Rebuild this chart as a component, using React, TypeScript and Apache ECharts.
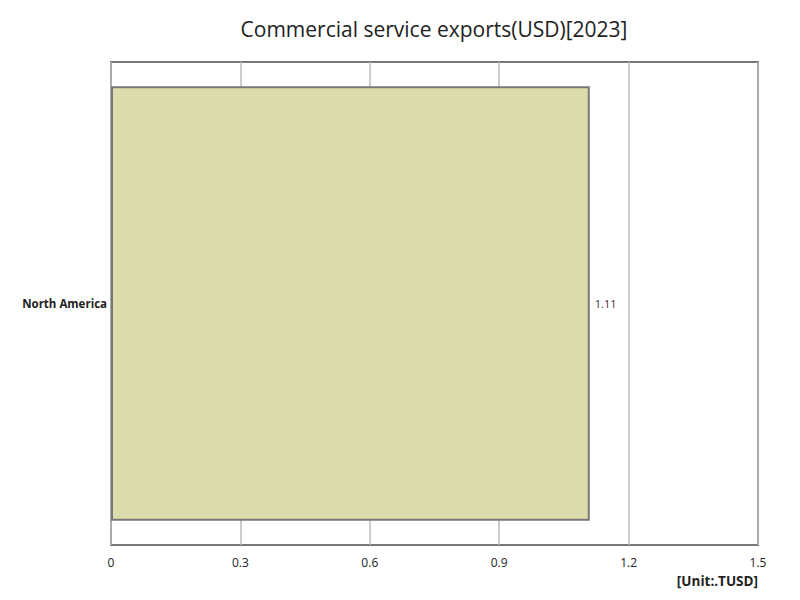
import { useEffect, useRef } from 'react';
import * as echarts from 'echarts';

const categories = ['North America'];
const values = [1.11];
const xTicks = { min: 0, max: 1.5, interval: 0.3 };

const FONT = "'Open Sans', 'Noto Sans', sans-serif";

export default function App() {
  const chartRef = useRef<HTMLDivElement>(null);

  useEffect(() => {
    if (!chartRef.current) return;
    const chart = echarts.init(chartRef.current, null, { renderer: 'svg' });

    const option = {
      animation: false,
      textStyle: { fontFamily: FONT },
      title: {
        text: 'Commercial service exports(USD)[2023]',
        left: 429,
        top: 13,
        textAlign: 'center',
        textStyle: { fontSize: 21, fontWeight: 'normal', color: '#222', fontFamily: FONT },
      },
      graphic: [
        {
          type: 'text',
          right: 42,
          top: 574,
          style: {
            text: '[Unit:.TUSD]',
            font: `bold 13.5px ${FONT}`,
            fill: '#222',
          },
        },
      ],
      grid: {
        left: 111,
        right: 42,
        top: 62,
        bottom: 55,
        show: true,
        borderColor: '#777',
        borderWidth: 2,
      },
      xAxis: {
        type: 'value',
        min: xTicks.min,
        max: xTicks.max,
        interval: xTicks.interval,
        axisLine: { show: false },
        axisTick: { show: false },
        axisLabel: { color: '#222', fontSize: 12, margin: 11 },
        splitLine: { show: true, lineStyle: { color: '#bbb', width: 1.5 } },
      },
      yAxis: {
        type: 'category',
        data: categories,
        axisLine: { show: false },
        axisTick: { show: false },
        axisLabel: { color: '#222', fontSize: 11.5, fontWeight: 'bold', margin: 4 },
        splitLine: { show: false },
      },
      series: [
        {
          type: 'bar',
          data: values,
          barWidth: '90%',
          itemStyle: { color: '#dddcad', borderColor: '#777', borderWidth: 2 },
          label: {
            show: true,
            position: 'right',
            distance: 5,
            formatter: (p: { value: number }) => `{v|${p.value}}`,
            rich: { v: { fontSize: 11, color: '#333', fontFamily: FONT } },
          },
        },
      ],
    };

    chart.setOption(option);
    return () => chart.dispose();
  }, []);

  return <div ref={chartRef} style={{ width: 800, height: 600, margin: -8 }} />;
}
